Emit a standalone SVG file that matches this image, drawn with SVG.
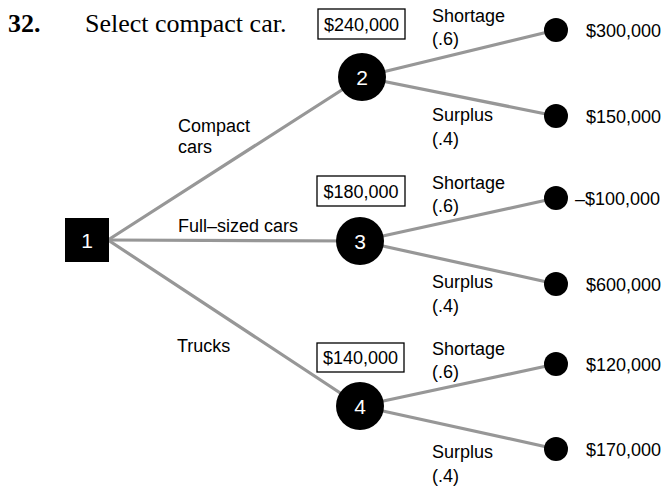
<svg xmlns="http://www.w3.org/2000/svg" width="667" height="487" viewBox="0 0 667 487">
  <style>
    .edge { stroke: #979797; stroke-width: 3.2; fill: none; stroke-linecap: round; }
    .lbl { font-family: "Liberation Sans", Arial, sans-serif; font-size: 18px; fill: #000; }
    .num { font-family: "Liberation Sans", Arial, sans-serif; font-size: 21px; fill: #fff; text-anchor: middle; }
    .box { fill: #fff; stroke: #000; stroke-width: 1.3; }
    .title { font-family: "Liberation Serif", "Times New Roman", serif; font-size: 26px; fill: #000; }
  </style>
  <rect width="667" height="487" fill="#fff"/>

  <text class="title" x="8" y="32" font-weight="bold">32.</text>
  <text class="title" x="85" y="32">Select compact car.</text>

  <!-- branches -->
  <g id="connectors">
    <line class="edge" x1="108" y1="240" x2="362" y2="77"/>
    <line class="edge" x1="108" y1="240" x2="360" y2="241"/>
    <line class="edge" x1="108" y1="240" x2="360" y2="406"/>
    <line class="edge" x1="362" y1="77" x2="556" y2="30"/>
    <line class="edge" x1="362" y1="77" x2="556" y2="116"/>
    <line class="edge" x1="360" y1="241" x2="556" y2="198"/>
    <line class="edge" x1="360" y1="241" x2="556" y2="284"/>
    <line class="edge" x1="360" y1="406" x2="556" y2="364"/>
    <line class="edge" x1="360" y1="406" x2="556" y2="449"/>
  </g>

  <!-- branch labels -->
  <text class="lbl" x="178" y="132">Compact</text>
  <text class="lbl" x="178" y="153">cars</text>
  <text class="lbl" x="178" y="232">Full–sized cars</text>
  <text class="lbl" x="177" y="352">Trucks</text>

  <!-- decision node -->
  <g id="n1">
    <rect x="65" y="218" width="44" height="44" fill="#000"/>
    <text class="num" x="87" y="248">1</text>
  </g>

  <!-- chance node: compact cars -->
  <g id="n2">
    <rect class="box" x="318" y="9" width="87" height="30"/>
    <text class="lbl" x="361.5" y="31" text-anchor="middle">$240,000</text>
    <circle cx="362" cy="77" r="24" fill="#000"/>
    <text class="num" x="362" y="85">2</text>
  </g>

  <!-- chance node: full-sized cars -->
  <g id="n3">
    <rect class="box" x="317" y="176" width="88" height="30"/>
    <text class="lbl" x="361" y="198" text-anchor="middle">$180,000</text>
    <circle cx="360" cy="241" r="24" fill="#000"/>
    <text class="num" x="360" y="249">3</text>
  </g>

  <!-- chance node: trucks -->
  <g id="n4">
    <rect class="box" x="317" y="343" width="87" height="29"/>
    <text class="lbl" x="360.5" y="364" text-anchor="middle">$140,000</text>
    <circle cx="360" cy="406" r="24" fill="#000"/>
    <text class="num" x="360" y="414">4</text>
  </g>

  <!-- outcome labels -->
  <text class="lbl" x="432" y="22">Shortage</text>
  <text class="lbl" x="432" y="45">(.6)</text>
  <text class="lbl" x="432" y="121">Surplus</text>
  <text class="lbl" x="432" y="145">(.4)</text>

  <text class="lbl" x="432" y="189">Shortage</text>
  <text class="lbl" x="432" y="212">(.6)</text>
  <text class="lbl" x="432" y="288">Surplus</text>
  <text class="lbl" x="432" y="312">(.4)</text>

  <text class="lbl" x="432" y="355">Shortage</text>
  <text class="lbl" x="432" y="378">(.6)</text>
  <text class="lbl" x="432" y="458">Surplus</text>
  <text class="lbl" x="432" y="482">(.4)</text>

  <!-- payoff leaves -->
  <g id="leaf-1">
    <circle cx="556" cy="30" r="12" fill="#000"/>
    <text class="lbl" x="586" y="37">$300,000</text>
  </g>
  <g id="leaf-2">
    <circle cx="556" cy="116" r="12" fill="#000"/>
    <text class="lbl" x="586" y="123">$150,000</text>
  </g>
  <g id="leaf-3">
    <circle cx="556" cy="198" r="12" fill="#000"/>
    <text class="lbl" x="575" y="205">–$100,000</text>
  </g>
  <g id="leaf-4">
    <circle cx="556" cy="284" r="12" fill="#000"/>
    <text class="lbl" x="586" y="291">$600,000</text>
  </g>
  <g id="leaf-5">
    <circle cx="556" cy="364" r="12" fill="#000"/>
    <text class="lbl" x="586" y="371">$120,000</text>
  </g>
  <g id="leaf-6">
    <circle cx="556" cy="449" r="12" fill="#000"/>
    <text class="lbl" x="586" y="456">$170,000</text>
  </g>
</svg>
